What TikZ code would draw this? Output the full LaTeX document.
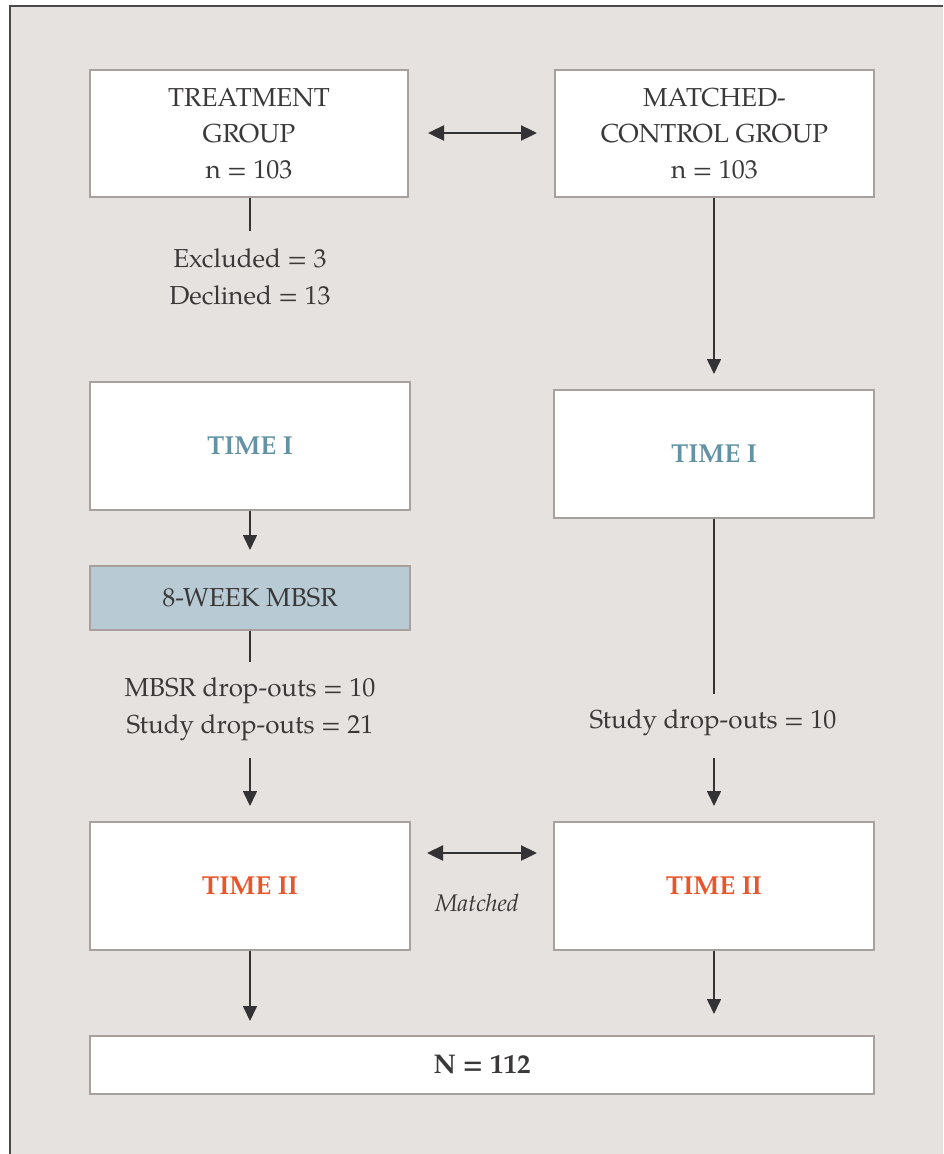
\documentclass[tikz,border=0pt]{standalone}
\usepackage{fontspec}
\setmainfont{TeX Gyre Pagella}
\usetikzlibrary{arrows.meta}
\definecolor{bg}{HTML}{E6E2DF}
\definecolor{frame}{HTML}{4A4A4A}
\definecolor{boxline}{HTML}{A8A09D}
\definecolor{txt}{HTML}{3A3838}
\definecolor{teal}{HTML}{6393A5}
\definecolor{orng}{HTML}{E8562B}
\definecolor{mbsr}{HTML}{B8CAD3}
\definecolor{arr}{HTML}{333235}
\tikzset{
  box/.style={draw=boxline, line width=1.2pt, fill=white, inner sep=0pt, align=center, text=txt, font=\fontsize{26}{36}\selectfont},
  lbl/.style={inner sep=0pt, align=center, text=txt, font=\fontsize{26}{36.5}\selectfont},
  conn/.style={draw=arr, line width=1.6pt},
  arrw/.style={conn, -{Triangle[length=15pt,width=14pt]}},
  darrw/.style={draw=arr, line width=2.4pt, {Triangle[length=16pt,width=15pt]}-{Triangle[length=16pt,width=15pt]}},
}
\begin{document}
\begin{tikzpicture}[x=1pt,y=-1pt]
\useasboundingbox (0,0) rectangle (943,1154);
\fill[white] (0,0) rectangle (943,1154);
\fill[bg] (9.5,6) rectangle (943,1154);
\draw[frame, line width=2pt] (9.5,1154) -- (9.5,6) -- (943,6);

% boxes
\node[box, minimum width=318pt, minimum height=127pt] (tg) at (249,133.5) {TREATMENT\\GROUP\\n = 103};
\node[box, minimum width=319pt, minimum height=127pt] (mc) at (714.5,133.5) {MATCHED-\\CONTROL GROUP\\n = 103};
\node[box, minimum width=320pt, minimum height=128pt] (t1l) at (250,446) {\textbf{\textcolor{teal}{TIME I}}};
\node[box, minimum width=320pt, minimum height=128pt] (t1r) at (714,454) {\textbf{\textcolor{teal}{TIME I}}};
\node[box, fill=mbsr, minimum width=320pt, minimum height=64pt] (mb) at (250,598) {8-WEEK MBSR};
\node[box, minimum width=320pt, minimum height=128pt] (t2l) at (250,886) {\textbf{\textcolor{orng}{TIME II}}};
\node[box, minimum width=320pt, minimum height=128pt] (t2r) at (714,886) {\textbf{\textcolor{orng}{TIME II}}};
\node[box, minimum width=784pt, minimum height=58pt, font=\fontsize{27}{36}\selectfont] (n) at (482,1065) {\textbf{N = 112}};

% labels
\node[lbl] (exc) at (250,277) {Excluded = 3\\Declined = 13};
\node[lbl] (dol) at (250,709) {MBSR drop-outs = 10\\Study drop-outs = 21};
\node[lbl] (dor) at (713,723) {Study drop-outs = 10};
\node[lbl, font=\fontsize{24}{28}\selectfont\itshape] (mat) at (477,903) {Matched};

% coordinates
\coordinate (a1) at (428,133);
\coordinate (a2) at (537,133);
\coordinate (b1) at (250,231);
\coordinate (c1) at (714,374);
\coordinate (d1) at (250,550);
\coordinate (e1) at (250,662);
\coordinate (f1) at (250,758);
\coordinate (f2) at (250,806);
\coordinate (g1) at (714,694);
\coordinate (h1) at (714,758);
\coordinate (h2) at (714,806);
\coordinate (i1) at (427,853);
\coordinate (i2) at (537,853);
\coordinate (j1) at (250,1021);
\coordinate (k1) at (714,1014);

% connectors
\draw[darrw] (a1) -- (a2);
\draw[conn] (tg.south -| b1) -- (b1);
\draw[arrw] (mc.south -| c1) -- (c1);
\draw[arrw] (t1l.south -| d1) -- (d1);
\draw[conn] (mb.south -| e1) -- (e1);
\draw[arrw] (f1) -- (f2);
\draw[conn] (t1r.south -| g1) -- (g1);
\draw[arrw] (h1) -- (h2);
\draw[darrw] (i1) -- (i2);
\draw[arrw] (t2l.south -| j1) -- (j1);
\draw[arrw] (t2r.south -| k1) -- (k1);
\end{tikzpicture}
\end{document}
